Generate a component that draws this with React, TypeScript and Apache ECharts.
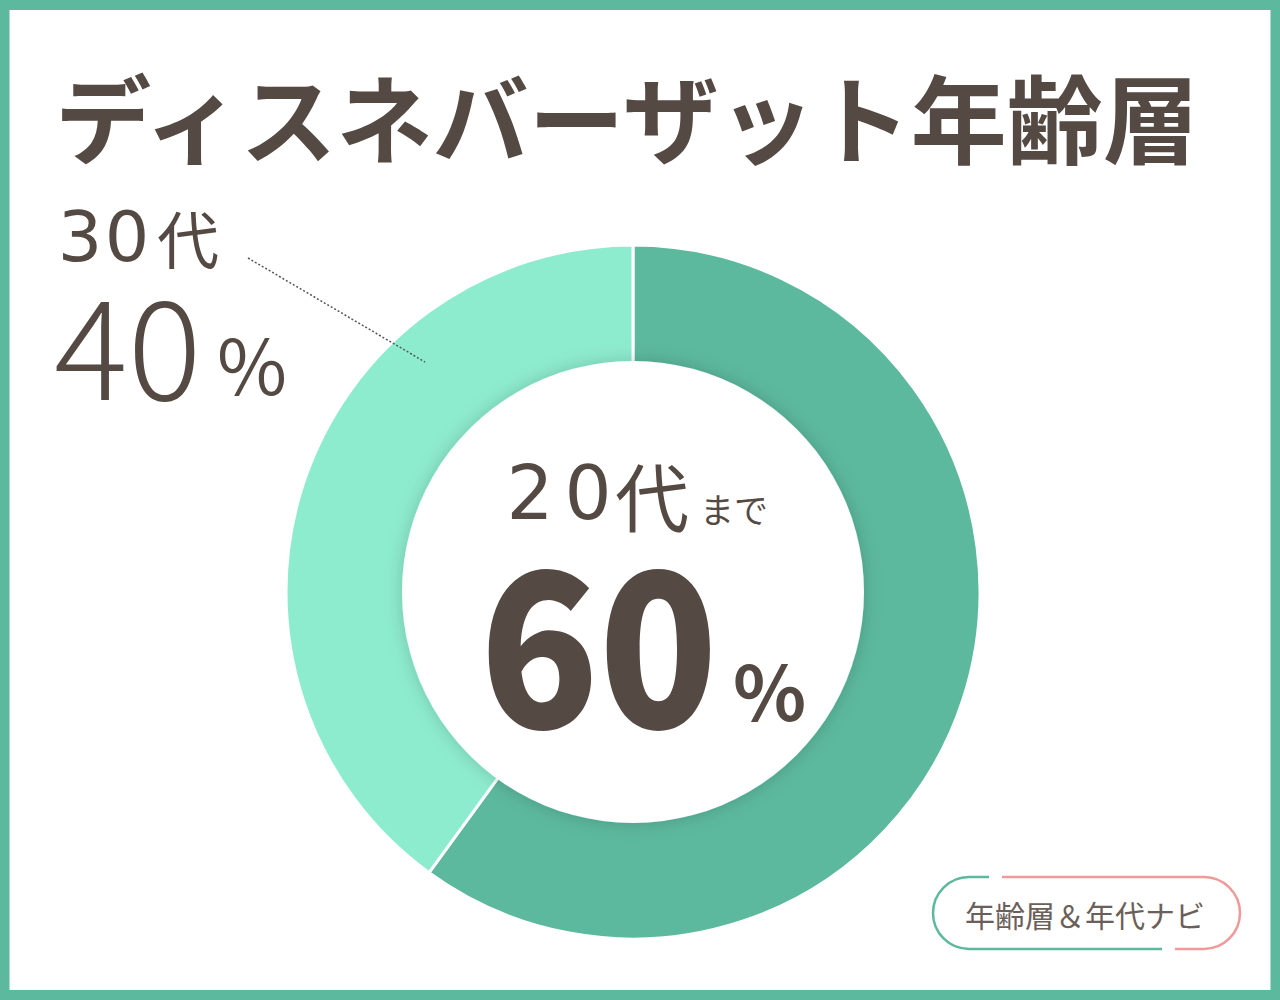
import React, { useEffect, useRef } from "react";
import * as echarts from "echarts";

const title = "ディスネバーザット年齢層";
const categories = ["20代まで", "30代"];
const values = [60, 40];
const colors = ["#5cb99d", "#8eecce"];
const brandText = "年齢層＆年代ナビ";

const TEXT = "#554a43";
const FONT = "'Noto Sans CJK JP', 'Noto Sans', sans-serif";
const DIGIT_FONT = "'DejaVu Sans', 'Noto Sans', sans-serif";

function spaced(text: string, centers: number[], y: number, digitFont: string, kanjiFont: string, lh: number) {
  return text.split("").map((ch, i) => ({
    type: "text",
    z: 110,
    x: centers[i],
    y,
    style: {
      text: ch,
      font: /[0-9]/.test(ch) ? digitFont : kanjiFont,
      lineHeight: lh,
      fill: TEXT,
      textAlign: "center",
      textVerticalAlign: "middle",
    },
  }));
}

export default function App() {
  const ref = useRef<HTMLDivElement>(null);
  useEffect(() => {
    document.body.style.margin = "0";
    const chart = echarts.init(ref.current!, null, { renderer: "svg" });
    const total = values.reduce((a, b) => a + b, 0);
    const pct = values.map((v) => Math.round((v / total) * 100));
    const cx = 633, cy = 592;
    const outerR = 347, innerR = 231;
    const main = categories[0];
    const mainNum = main.replace(/代.*/, "代");
    const mainSuffix = main.replace(/^.*代/, "");

    chart.setOption({
      animation: false,
      backgroundColor: "#ffffff",
      series: [
        {
          type: "pie",
          center: [cx, cy],
          radius: [innerR - 10, outerR],
          startAngle: 90,
          clockwise: true,
          silent: true,
          label: { show: false },
          labelLine: { show: false },
          itemStyle: { borderColor: "#ffffff", borderWidth: 3 },
          data: categories.map((c, i) => ({
            name: c,
            value: values[i],
            itemStyle: { color: colors[i] },
          })),
        },
      ],
      graphic: [
        // frame
        {
          type: "rect",
          z: 200,
          shape: { x: 4.5, y: 5, width: 1271, height: 990 },
          style: { fill: "none", stroke: "#5cb99d", lineWidth: 10 },
        },
        // inner white circle with shadow
        {
          type: "circle",
          z: 100,
          shape: { cx, cy, r: innerR },
          style: {
            fill: "#ffffff",
            shadowBlur: 18,
            shadowColor: "rgba(0,0,0,0.18)",
          },
        },
        // title
        {
          type: "text",
          z: 110,
          x: 627,
          y: 114,
          style: {
            text: title,
            font: `bold 96px ${FONT}`,
            lineHeight: 100,
            fill: TEXT,
            textAlign: "center",
            textVerticalAlign: "middle",
          },
        },
        // 30代 label
        ...spaced(categories[1], [80, 127, 188], 237, `400 70px ${DIGIT_FONT}`, `400 62px ${FONT}`, 62),
        {
          type: "text",
          z: 110,
          x: 54,
          y: 340,
          style: {
            text: String(pct[1]),
            font: `300 138px ${FONT}`,
            lineHeight: 110,
            fill: TEXT,
            textAlign: "left",
            textVerticalAlign: "middle",
          },
        },
        {
          type: "text",
          z: 110,
          x: 217,
          y: 362,
          style: {
            text: "%",
            font: `400 76px ${FONT}`,
            lineHeight: 64,
            fill: TEXT,
            textAlign: "left",
            textVerticalAlign: "middle",
          },
        },
        // dotted leader line
        {
          type: "line",
          z: 110,
          shape: { x1: 248, y1: 258, x2: 425, y2: 362 },
          style: { stroke: "#555555", lineWidth: 1.5, lineDash: [2, 2] },
        },
        // center text
        ...spaced(mainNum, [530, 588, 652], 493, `400 74px ${DIGIT_FONT}`, `400 74px ${FONT}`, 70),
        {
          type: "text",
          z: 110,
          x: 700,
          y: 508,
          style: {
            text: mainSuffix,
            font: `400 34px ${FONT}`,
            lineHeight: 34,
            fill: TEXT,
            textAlign: "left",
            textVerticalAlign: "middle",
          },
        },
        {
          type: "text",
          z: 110,
          x: 718,
          y: 634,
          scaleX: 0.91,
          style: {
            text: String(pct[0]),
            font: `900 215px ${FONT}`,
            lineHeight: 170,
            fill: TEXT,
            textAlign: "right",
            textVerticalAlign: "middle",
          },
        },
        {
          type: "text",
          z: 110,
          x: 733,
          y: 688,
          style: {
            text: "%",
            font: `bold 76px ${FONT}`,
            lineHeight: 64,
            fill: TEXT,
            textAlign: "left",
            textVerticalAlign: "middle",
          },
        },
        // brand badge
        {
          type: "arc",
          z: 110,
          shape: { cx: 969, cy: 913, r: 36, startAngle: Math.PI / 2, endAngle: (Math.PI * 3) / 2, clockwise: true },
          style: { stroke: "#5cb99d", lineWidth: 2.5, fill: "none" },
        },
        {
          type: "line",
          z: 110,
          shape: { x1: 969, y1: 877, x2: 989, y2: 877 },
          style: { stroke: "#5cb99d", lineWidth: 2.5 },
        },
        {
          type: "line",
          z: 110,
          shape: { x1: 969, y1: 949, x2: 1162, y2: 949 },
          style: { stroke: "#5cb99d", lineWidth: 2.5 },
        },
        {
          type: "arc",
          z: 110,
          shape: { cx: 1204, cy: 913, r: 36, startAngle: -Math.PI / 2, endAngle: Math.PI / 2, clockwise: true },
          style: { stroke: "#f0999a", lineWidth: 2.5, fill: "none" },
        },
        {
          type: "line",
          z: 110,
          shape: { x1: 1002, y1: 877, x2: 1204, y2: 877 },
          style: { stroke: "#f0999a", lineWidth: 2.5 },
        },
        {
          type: "line",
          z: 110,
          shape: { x1: 1175, y1: 949, x2: 1204, y2: 949 },
          style: { stroke: "#f0999a", lineWidth: 2.5 },
        },
        {
          type: "text",
          z: 110,
          x: 1085,
          y: 914,
          style: {
            text: brandText,
            font: `400 30px ${FONT}`,
            lineHeight: 32,
            fill: "#6b6059",
            textAlign: "center",
            textVerticalAlign: "middle",
          },
        },
      ],
    });
    return () => chart.dispose();
  }, []);
  return (
    <div
      ref={ref}
      style={{ position: "absolute", left: 0, top: 0, width: 1280, height: 1000 }}
    />
  );
}
